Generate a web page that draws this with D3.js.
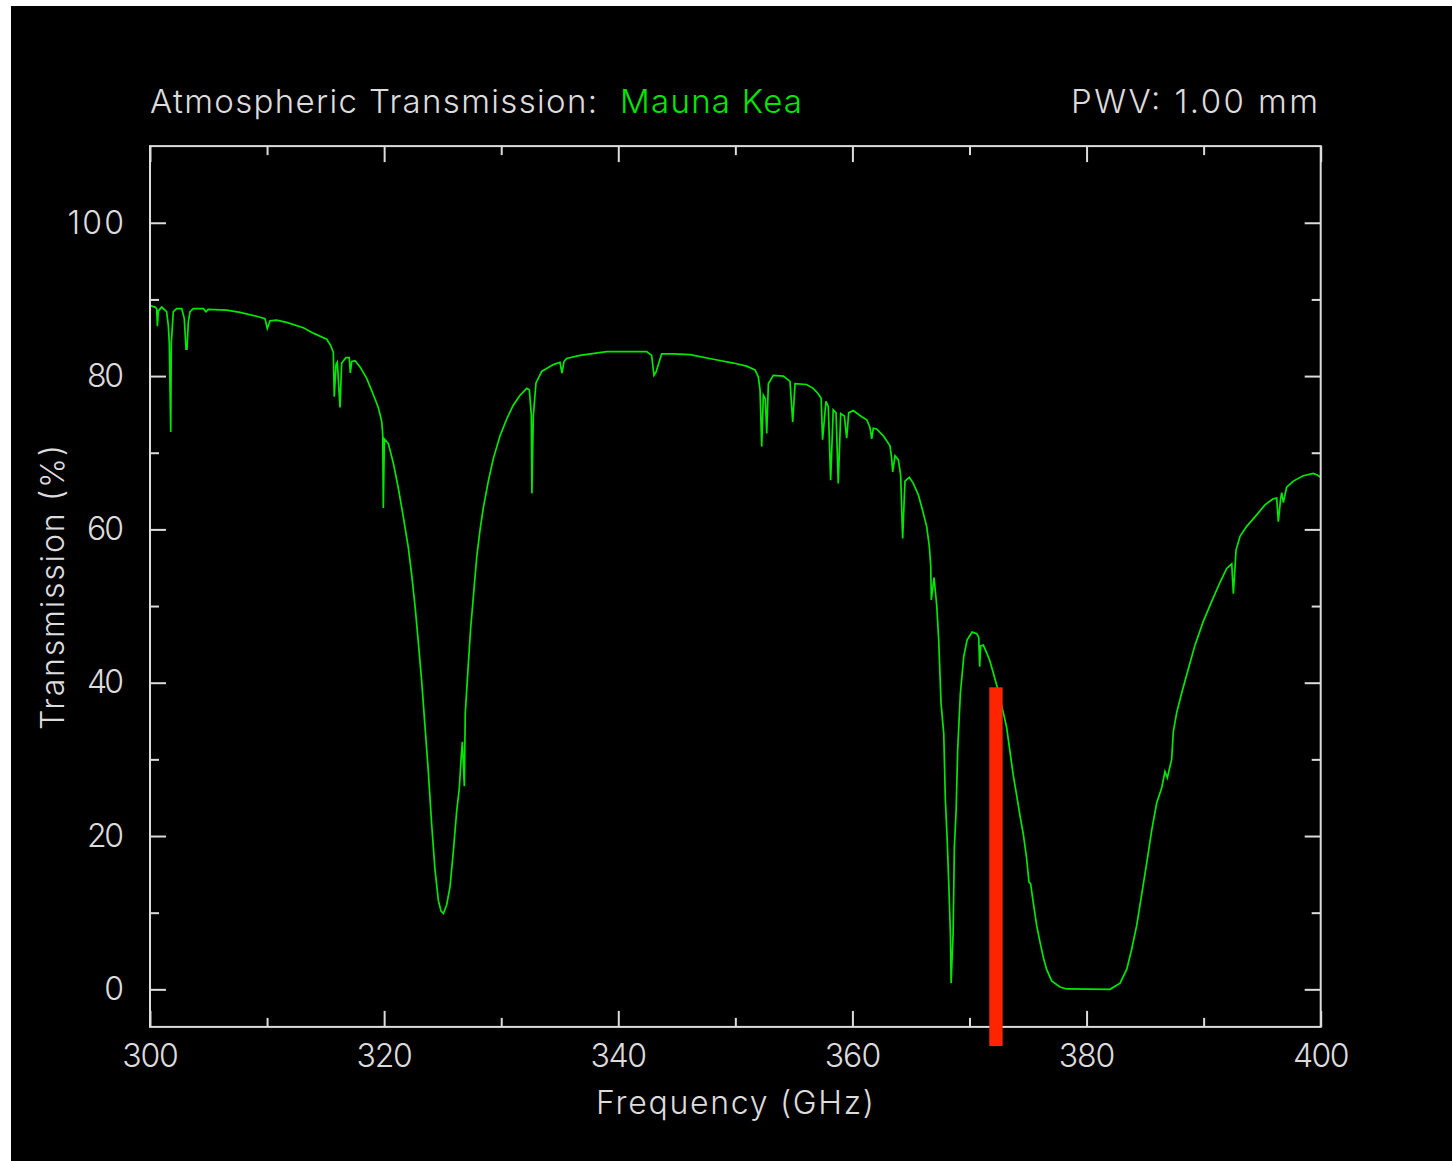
<!DOCTYPE html>
<html>
<head>
<meta charset="utf-8">
<script src="https://cdn.jsdelivr.net/npm/d3@7"></script>
<style>
  html, body { margin: 0; padding: 0; background: #ffffff; }
  svg { display: block; }
  text { font-family: Inter, "DejaVu Sans", sans-serif; font-weight: 300; }
</style>
</head>
<body>
<script>
// Atmospheric transmission spectrum, 300-400 GHz, Mauna Kea, PWV 1.00 mm
const freqGHz = [
  300.00, 300.43, 300.57, 300.63, 300.71, 301.00, 301.42, 301.57, 301.65, 301.77,
  301.82, 301.99, 302.28, 302.71, 302.93, 303.08, 303.16, 303.27, 303.42, 303.70,
  304.55, 304.78, 304.98, 306.55, 307.69, 309.11, 309.82, 310.02, 310.25, 310.82,
  311.67, 313.10, 313.95, 315.09, 315.43, 315.66, 315.74, 315.89, 316.00, 316.23,
  316.37, 316.74, 317.02, 317.11, 317.23, 317.51, 317.94, 318.51, 319.07, 319.50,
  319.79, 319.88, 319.93, 320.02, 320.36, 320.79, 321.21, 321.64, 322.07, 322.35,
  322.64, 322.92, 323.21, 323.49, 323.77, 324.06, 324.34, 324.63, 324.86, 325.06,
  325.34, 325.63, 325.91, 326.20, 326.42, 326.57, 326.68, 326.85, 326.93, 327.19,
  327.39, 327.62, 327.91, 328.19, 328.47, 328.90, 329.32, 329.90, 330.47, 331.03,
  331.61, 332.18, 332.40, 332.57, 332.62, 332.74, 332.97, 333.46, 334.45, 335.02,
  335.19, 335.36, 335.59, 336.73, 339.01, 342.43, 342.85, 343.05, 343.22, 343.71,
  344.70, 346.13, 348.12, 349.83, 350.97, 351.68, 351.96, 352.11, 352.25, 352.39,
  352.56, 352.68, 352.82, 353.24, 354.10, 354.67, 354.90, 355.10, 356.08, 356.65,
  357.08, 357.33, 357.45, 357.74, 357.94, 358.14, 358.36, 358.60, 358.79, 359.00,
  359.31, 359.51, 359.68, 360.07, 360.79, 361.22, 361.50, 361.65, 361.78, 362.07,
  362.64, 363.21, 363.35, 363.44, 363.64, 363.92, 364.12, 364.29, 364.49, 364.86,
  365.20, 365.63, 365.92, 366.34, 366.57, 366.69, 366.74, 366.97, 367.20, 367.37,
  367.57, 367.80, 367.94, 368.09, 368.23, 368.37, 368.43, 368.60, 368.71, 368.86,
  368.99, 369.22, 369.51, 369.80, 370.23, 370.62, 370.79, 370.87, 370.95, 371.18,
  371.47, 371.75, 372.03, 372.32, 372.89, 373.18, 373.46, 373.74, 374.03, 374.31,
  374.60, 374.88, 375.08, 375.22, 375.44, 375.74, 376.02, 376.30, 376.59, 377.02,
  377.73, 378.30, 382.00, 382.86, 383.43, 383.85, 384.28, 384.71, 385.14, 385.56,
  385.99, 386.42, 386.70, 386.90, 387.27, 387.41, 387.70, 388.13, 388.69, 389.26,
  389.97, 390.69, 391.40, 391.97, 392.40, 392.54, 392.77, 393.11, 393.68, 394.53,
  395.24, 395.95, 396.24, 396.38, 396.58, 396.67, 396.81, 397.09, 397.66, 398.51,
  399.37, 399.71, 400.00
];

const transmissionPct = [
  89.2, 89.0, 88.8, 86.5, 88.5, 89.0, 88.4, 86.5, 84.3, 72.7,
  84.3, 88.4, 88.8, 88.8, 87.5, 83.5, 83.5, 87.0, 88.4, 88.8,
  88.8, 88.4, 88.7, 88.6, 88.3, 87.8, 87.5, 86.2, 87.2, 87.3,
  87.0, 86.3, 85.6, 84.8, 84.0, 83.1, 77.3, 81.5, 81.8, 75.9,
  81.7, 82.4, 82.4, 80.4, 81.9, 82.0, 81.2, 79.7, 77.6, 75.9,
  74.1, 72.4, 62.8, 71.8, 71.2, 68.6, 65.4, 61.6, 57.6, 54.1,
  50.0, 45.3, 40.1, 34.3, 28.5, 21.5, 15.7, 11.6, 10.2, 9.9,
  11.0, 13.4, 18.0, 23.3, 26.2, 30.0, 32.3, 26.5, 36.0, 42.4,
  47.1, 51.2, 56.4, 59.9, 62.8, 66.3, 69.2, 72.2, 74.4, 76.2,
  77.5, 78.4, 78.2, 75.0, 64.7, 74.7, 79.1, 80.6, 81.5, 81.8,
  80.4, 81.9, 82.3, 82.7, 83.2, 83.2, 82.7, 80.1, 80.5, 82.9,
  82.9, 82.8, 82.2, 81.7, 81.3, 80.8, 79.9, 78.2, 70.8, 77.5,
  77.0, 72.5, 79.0, 80.1, 80.0, 79.3, 74.0, 79.0, 78.9, 78.4,
  77.7, 77.1, 71.7, 76.7, 76.0, 66.4, 75.6, 75.2, 66.0, 75.1,
  74.8, 71.9, 75.2, 75.5, 74.7, 74.3, 73.3, 71.8, 73.2, 73.1,
  72.2, 70.9, 69.3, 67.5, 69.6, 69.1, 67.1, 58.8, 66.3, 66.8,
  66.0, 64.5, 62.9, 60.4, 57.8, 55.2, 50.8, 53.7, 50.1, 45.6,
  37.3, 33.4, 24.7, 19.7, 13.8, 7.3, 0.8, 7.3, 18.6, 23.4,
  31.2, 38.6, 43.4, 45.6, 46.6, 46.4, 45.9, 42.1, 44.8, 44.9,
  43.9, 42.8, 41.3, 39.7, 36.1, 34.1, 31.0, 27.9, 25.3, 22.7,
  20.2, 17.1, 14.0, 13.8, 11.4, 8.3, 6.2, 4.2, 2.6, 1.1,
  0.3, 0.05, 0.0, 0.8, 2.6, 5.2, 8.3, 12.4, 16.5, 20.7,
  24.3, 26.3, 28.4, 27.6, 30.0, 33.6, 36.1, 38.7, 41.8, 44.9,
  48.0, 50.6, 53.1, 54.9, 55.5, 51.6, 57.3, 59.1, 60.4, 61.9,
  63.2, 64.0, 64.1, 61.0, 64.0, 64.8, 63.5, 65.5, 66.3, 67.0,
  67.3, 67.1, 66.8
];

const xMajorTicks = [300, 320, 340, 360, 380, 400];
const xMinorTicks = [310, 330, 350, 370, 390];
const yMajorTicks = [0, 20, 40, 60, 80, 100];
const yMinorTicks = [10, 30, 50, 70, 90];

const titleLabel = "Atmospheric Transmission:";
const siteLabel = "Mauna Kea";
const pwvLabel = "PWV: 1.00 mm";
const xAxisLabel = "Frequency (GHz)";
const yAxisLabel = "Transmission (%)";

// observing frequency marker (red bar)
const markerCenterGHz = 372.26;
const markerWidthGHz = 1.14;
const markerTopPct = 39.4;
const markerBottomPct = -7.4;

const W = 1452, H = 1161;
const plot = { left: 150, right: 1320.7, top: 146.1, bottom: 1026.9 };

const fg = "#dcdcdc";
const green = "#00e800";
const red = "#ff2400";
const fontStack = 'Inter, "DejaVu Sans", sans-serif';

const x = d3.scaleLinear().domain([300, 400]).range([plot.left, plot.right]);
const y = d3.scaleLinear().domain([-4.9, 110]).range([plot.bottom, plot.top]);

const svg = d3.select("body").append("svg")
  .attr("width", W).attr("height", H);

// black canvas with a thin white border on the left and top
svg.append("rect").attr("x", 11).attr("y", 6)
  .attr("width", W - 11).attr("height", H - 6).attr("fill", "#000");

svg.append("defs").append("clipPath").attr("id", "plot-clip")
  .append("rect")
  .attr("x", plot.left).attr("y", plot.top)
  .attr("width", plot.right - plot.left).attr("height", plot.bottom - plot.top);

// transmission curve
const points = freqGHz.map((f, i) => [f, transmissionPct[i]]);
svg.append("path")
  .datum(points)
  .attr("clip-path", "url(#plot-clip)")
  .attr("fill", "none")
  .attr("stroke", green)
  .attr("stroke-width", 1.7)
  .attr("d", d3.line().x(d => x(d[0])).y(d => y(d[1])));

// axes: ticks point inward on all four sides
function styleAxis(g) {
  g.select(".domain").remove();
  g.selectAll("line").attr("stroke", fg).attr("stroke-width", 2);
  g.selectAll("text")
    .attr("fill", fg).attr("font-size", 32)
    .attr("font-family", fontStack).attr("font-weight", 300)
    .each(function () {
      const s = this.textContent;
      if (s.length > 1) {
        d3.select(this).attr("textLength", s.length * 19.5 - 2).attr("lengthAdjust", "spacing");
      }
    });
}

// bottom
svg.append("g").attr("transform", `translate(0,${plot.bottom})`)
  .call(d3.axisBottom(x).tickValues(xMajorTicks).tickSize(-16).tickPadding(17).tickFormat(d3.format("d")))
  .call(styleAxis);
svg.append("g").attr("transform", `translate(0,${plot.bottom})`)
  .call(d3.axisBottom(x).tickValues(xMinorTicks).tickSize(-9).tickFormat(""))
  .call(styleAxis);
// top
svg.append("g").attr("transform", `translate(0,${plot.top})`)
  .call(d3.axisTop(x).tickValues(xMajorTicks).tickSize(-16).tickFormat(""))
  .call(styleAxis);
svg.append("g").attr("transform", `translate(0,${plot.top})`)
  .call(d3.axisTop(x).tickValues(xMinorTicks).tickSize(-9).tickFormat(""))
  .call(styleAxis);
// left
svg.append("g").attr("transform", `translate(${plot.left},0)`)
  .call(d3.axisLeft(y).tickValues(yMajorTicks).tickSize(-16).tickPadding(26).tickFormat(d3.format("d")))
  .call(styleAxis);
svg.append("g").attr("transform", `translate(${plot.left},0)`)
  .call(d3.axisLeft(y).tickValues(yMinorTicks).tickSize(-9).tickFormat(""))
  .call(styleAxis);
// right
svg.append("g").attr("transform", `translate(${plot.right},0)`)
  .call(d3.axisRight(y).tickValues(yMajorTicks).tickSize(-16).tickFormat(""))
  .call(styleAxis);
svg.append("g").attr("transform", `translate(${plot.right},0)`)
  .call(d3.axisRight(y).tickValues(yMinorTicks).tickSize(-9).tickFormat(""))
  .call(styleAxis);

// frame
svg.append("rect")
  .attr("x", plot.left).attr("y", plot.top)
  .attr("width", plot.right - plot.left).attr("height", plot.bottom - plot.top)
  .attr("fill", "none").attr("stroke", fg).attr("stroke-width", 2);

// red marker bar (drawn over the curve, extends below the axis)
svg.append("rect")
  .attr("x", x(markerCenterGHz - markerWidthGHz / 2))
  .attr("y", y(markerTopPct))
  .attr("width", x(markerCenterGHz + markerWidthGHz / 2) - x(markerCenterGHz - markerWidthGHz / 2))
  .attr("height", y(markerBottomPct) - y(markerTopPct))
  .attr("fill", red);

// headings
function label(txt, xPos, yPos, size, color, anchor, width) {
  return svg.append("text")
    .attr("x", xPos).attr("y", yPos)
    .attr("text-anchor", anchor)
    .attr("font-size", size).attr("fill", color)
    .attr("textLength", width).attr("lengthAdjust", "spacing")
    .text(txt);
}

label(titleLabel, plot.left, 113, 33, fg, "start", 447);
label(siteLabel, 620, 113, 33, green, "start", 182);
label(pwvLabel, 1318, 113, 33, fg, "end", 247);
label(xAxisLabel, 735, 1114, 32, fg, "middle", 278);
label(yAxisLabel, 0, 0, 32, fg, "middle", 285)
  .attr("transform", `translate(64,${587.5}) rotate(-90)`);
</script>
</body>
</html>
